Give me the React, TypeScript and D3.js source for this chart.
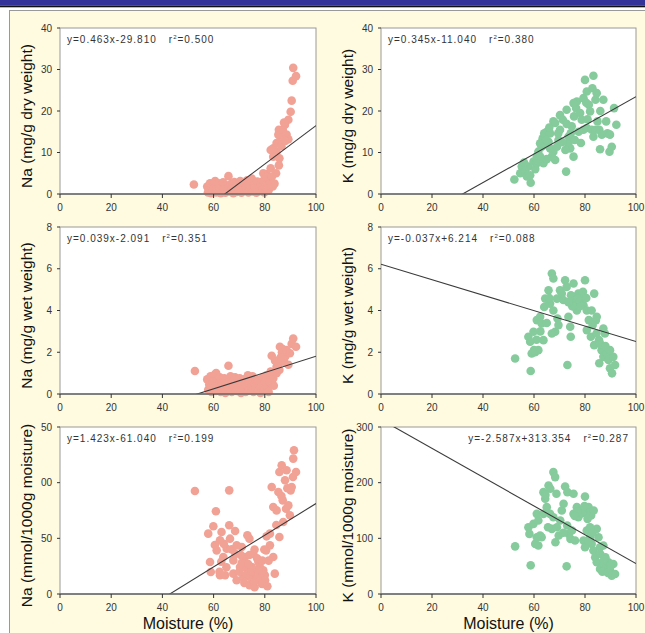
import * as d3 from 'd3'

// Moisture (%) vs. ion content, six panels (Na left, K right)
const naDry: [number, number][] = [
  [52.3, 2.3], [57.5, 1.8], [57.8, 0.4], [58.2, 1.1], [58.6, 2.6], [59, 0.2], [59.3, 1.5], [59.8, 0.8],
  [60.2, 2.2], [60.6, 3.1], [61, 0.4], [61.4, 1.6], [61.9, 2.6], [62.3, 0.9], [62.8, 0.2], [63.2, 1.9],
  [63.7, 2.8], [64.1, 1.1], [64.6, 0.3], [65, 2.1], [65.5, 1.4], [65.8, 4.3], [66.3, 0.6], [66.8, 2.4],
  [67.2, 1.2], [67.7, 0.2], [68.1, 2.9], [68.6, 1.6], [69, 0.5], [69.5, 2.2], [70, 1], [70.4, 3.1],
  [70.9, 0.3], [71.3, 1.8], [71.8, 2.6], [72.2, 0.8], [72.7, 1.5], [73.1, 3.3], [73.6, 0.4], [74, 2.2],
  [74.5, 1.1], [74.9, 3.7], [75.3, 0.6], [75.8, 2.5], [76.2, 1.4], [76.7, 0.3], [77.1, 3], [77.6, 1.8],
  [78, 0.7], [78.5, 2.3], [79, 1], [79.4, 3.2], [79.8, 0.4], [80.2, 1.7], [80.6, 4.8], [81.1, 2.6],
  [81.5, 0.9], [82, 3.8], [82.3, 6.2], [79.4, 5], [80.7, 4.2], [81.5, 2.2], [83.1, 1.8], [84.4, 5],
  [85.5, 6.9], [85.7, 8.6], [83.3, 9], [84.6, 10.2], [82.3, 10.6], [83.3, 11], [84.6, 12.3], [86.2, 13.5],
  [85.3, 14.3], [85.5, 15.5], [87, 15.5], [87.9, 16.7], [89.2, 17.9], [88.5, 14.3], [89.2, 13.2], [90.1, 19.8],
  [90.5, 22.5], [90.9, 27.3], [91.1, 30.4], [92.2, 28.4], [86.5, 11.5], [88, 12.8], [87.5, 17.2], [82.8, 4.2],
  [83.8, 2.5]
]

const kDry: [number, number][] = [
  [52.3, 3.5], [58.7, 2.7], [55.2, 6.6], [54.6, 5], [56.5, 5.4], [57.2, 4.2], [57.8, 6.6], [56.1, 7.6],
  [59.8, 7.8], [61.1, 9], [61.7, 10.2], [63, 11.4], [63.7, 7.4], [62.4, 12.2], [63.4, 13.4], [64, 14.6],
  [65, 15], [66.3, 14.6], [67.6, 17.5], [64.4, 11.8], [65.7, 12.6], [66.3, 11], [67.6, 10.2], [69, 11.4],
  [69.6, 13], [70.2, 15.5], [71.3, 17.9], [72.8, 20.3], [72.6, 5.4], [73.5, 12.2], [74.2, 11], [74.4, 14.6],
  [74.8, 16.3], [75.7, 18.7], [76.5, 20.7], [76.8, 22.3], [78.1, 19.5], [78.7, 17.9], [79.4, 23.1], [80, 27.5],
  [80.7, 24.7], [81.5, 21.5], [82, 19.9], [82.9, 25.5], [83.3, 28.5], [84.1, 22.7], [84.6, 24.3], [84.9, 17.5],
  [85.6, 15.5], [86.6, 14.3], [85.9, 10.8], [87.2, 22.7], [88.3, 17.5], [88.8, 14.6], [89.6, 10.2], [90.5, 11.4],
  [91.4, 20.7], [92.3, 16.7], [89.8, 14.3], [79.4, 15.5], [80.7, 15.9], [82.6, 15.5], [75.5, 9], [72.3, 10.6],
  [68.3, 8.2], [67, 9], [65, 8.4], [62.4, 9], [61.1, 7.4], [68.3, 17.1], [70.2, 19], [78.4, 12.3],
  [83.3, 13.8], [84.2, 15.5], [75.5, 21.9], [72.8, 16.9], [73.5, 13.8], [69.5, 14.6], [77.5, 15], [81, 18],
  [66, 16], [60.5, 6], [58.5, 4.5], [64.8, 13], [71, 12.5], [76, 13], [86, 20], [80.5, 22]
]

const naWet: [number, number][] = [
  [52.7, 1.1], [57.5, 0.7], [57.9, 0.2], [58.3, 0.45], [58.8, 0.85], [59.2, 0.1], [59.7, 0.55], [60.1, 0.3],
  [60.6, 0.95], [61, 0.15], [61.5, 0.65], [61.9, 0.4], [62.4, 0.8], [62.8, 0.1], [63.3, 0.5], [63.7, 0.25],
  [64.2, 0.75], [64.6, 0.05], [65.1, 0.55], [65.8, 1.35], [66.2, 0.3], [66.6, 0.85], [67.1, 0.1], [67.5, 0.6],
  [68, 0.35], [68.4, 0.8], [68.9, 0.15], [69.3, 0.55], [69.8, 0.3], [70.2, 0.75], [70.7, 0.05], [71.1, 0.5],
  [71.6, 0.25], [72, 0.7], [72.5, 0.1], [72.9, 0.45], [73.4, 0.9], [73.8, 0.2], [74.3, 0.6], [74.7, 0.35],
  [75.2, 0.85], [75.6, 0.1], [76.1, 0.5], [76.5, 0.3], [77, 0.7], [77.4, 0.15], [77.9, 0.55], [78.3, 0.05],
  [78.8, 0.4], [79.2, 0.8], [79.7, 0.2], [80.1, 0.6], [80.6, 0.9], [81, 0.35], [81.5, 0.1], [82, 0.55],
  [82.3, 1.07], [80.7, 0.83], [83.3, 0.75], [84.6, 1.0], [82.7, 1.83], [84.6, 1.3], [85.5, 1.46], [85.7, 1.15],
  [87.5, 1.55], [89.2, 1.4], [88, 1.8], [89.8, 1.95], [88.5, 2.1], [86.7, 2.0], [85.9, 2.26], [90.5, 2.4],
  [91.1, 2.66], [92.2, 2.26], [84, 1.6], [86.2, 1.75], [87, 2.15], [83.5, 0.4], [61, 1.0]
]

const kWet: [number, number][] = [
  [52.6, 1.7], [58.7, 1.1], [57.8, 2.74], [58.5, 2.5], [59.8, 2.98], [59.1, 1.94], [60.4, 2.0], [61.7, 2.1],
  [61.1, 3.54], [62.4, 3.7], [63, 3.38], [63.7, 2.58], [64, 4.17], [64.4, 4.57], [65.7, 4.97], [67, 5.77],
  [67.6, 5.53], [66.3, 4.33], [67.6, 4.0], [69, 4.57], [69.2, 3.62], [68.3, 2.98], [67, 2.9], [69.6, 3.3],
  [70.2, 4.97], [72.2, 5.45], [72.8, 5.13], [73.1, 1.39], [73.5, 3.7], [74.2, 3.22], [74.4, 2.74], [75.5, 5.29],
  [76.2, 4.49], [76.8, 4.17], [77.4, 4.81], [78.1, 4.49], [78.7, 4.73], [80, 5.45], [79.4, 4.25], [80.7, 4.0],
  [80.7, 3.06], [81.5, 3.54], [82.3, 2.74], [83.6, 4.81], [82.6, 4.0], [83.6, 2.34], [84.3, 3.54], [84.6, 3.7],
  [85.5, 2.58], [85.6, 1.47], [86.5, 2.1], [87.2, 1.78], [87.2, 3.14], [87.8, 2.9], [88.5, 1.94], [89.2, 1.63],
  [89.8, 1.23], [90.6, 0.99], [91.1, 1.78], [91.8, 1.39], [89.8, 2.1], [75.7, 4.65], [74.5, 4.73], [76.8, 4.0],
  [71.5, 4.5], [70.9, 4.81], [79.2, 4.9], [78, 4.2], [77, 4.55], [75, 4.2], [73.5, 4.4], [80.5, 4.6],
  [66, 4.6], [65, 3.4], [62.5, 3.0], [61, 2.6], [60, 2.1], [83, 3.3], [84.5, 2.9], [86, 2.4], [88, 2.3]
]

const naMmol: [number, number][] = [
  [52.7, 92.5], [66.1, 93.1], [60.9, 74.3], [59.9, 60.8], [57.9, 54.2], [58.6, 28.7], [58.9, 19.8], [61.2, 39.2],
  [62.5, 48.2], [63.1, 55.7], [63.8, 33.2], [62.5, 16.8], [64.5, 16.8], [65.1, 40.7], [66.1, 61.7], [66.4, 49.7],
  [67.1, 40.1], [67.7, 30.2], [68.4, 56.6], [69, 43.7], [67.7, 18.3], [69, 12.3], [70.3, 24.3], [71, 42.2],
  [71.6, 15.3], [72.3, 33.2], [72.9, 22.8], [73.2, 52.7], [74, 49.7], [74.2, 15.3], [74.9, 24.3], [75.5, 36.2],
  [76.2, 12.3], [76.8, 18.3], [77.5, 28.7], [78.1, 15.3], [78.8, 9.3], [79.4, 21.3], [80.1, 12.3], [80.5, 39.2],
  [80.7, 51.8], [82, 43.7], [82, 54.2], [83.3, 33.2], [83.9, 18.3], [82.7, 96.1], [83.3, 78.1], [84.6, 75.1],
  [85.3, 91.6], [85.7, 109.6], [86.6, 115.6], [87, 84.1], [87.9, 102.1], [87.2, 64.7], [88.3, 76.6], [89.2, 79.6],
  [89.8, 70.7], [90.1, 93.1], [91, 105.1], [91.1, 121.6], [91.4, 129.1], [92.2, 109.6], [90.5, 96.1], [85.7, 51.2],
  [88.5, 111.1], [72, 10], [73, 18], [74, 8], [75, 20], [76, 6], [77, 14], [78, 25], [79, 9],
  [80, 17], [81, 7], [77, 32], [79, 30], [76, 40], [74, 35], [71, 28], [70, 20], [64, 45], [65, 24],
  [60.5, 44], [63, 29], [68.5, 36], [73.5, 27], [75.8, 11], [78.5, 19], [79.8, 40], [81.5, 30], [84.5, 62],
  [86.5, 88], [88.8, 95], [62.3, 20], [70.6, 35], [77.3, 21]
]

const kMmol: [number, number][] = [
  [52.6, 85.6], [58.7, 51.5], [72.8, 49.7], [67.6, 219], [68.3, 210], [65.7, 195], [66.4, 189], [63.7, 183],
  [64.4, 171], [65, 156], [72.2, 193], [73.1, 183], [75.5, 180], [80, 175], [57.8, 120], [58.2, 108],
  [59.8, 126], [61.1, 144], [61.7, 132], [62.4, 105], [63, 102], [63.7, 144], [66.3, 144], [67.6, 138],
  [67, 117], [69, 120], [70.3, 132], [70.9, 150], [71.6, 162], [73, 123], [73.6, 108], [74.3, 99],
  [74.9, 114], [75.5, 144], [76.8, 156], [77.4, 138], [78.1, 150], [79.4, 153], [80.7, 147], [81.4, 156],
  [82.4, 141], [83.4, 150], [80.7, 114], [82, 102], [82.6, 90], [83.3, 78], [84, 66], [84.6, 57],
  [85.9, 84], [87.2, 87], [85.9, 45], [87.2, 54], [88.5, 48], [89.8, 42], [90.5, 33], [91.1, 54],
  [91.8, 36], [89.2, 57], [88, 66], [85.3, 102], [84.6, 117], [79.4, 96], [80, 84], [82, 120],
  [61.7, 87], [60.5, 90], [61.1, 102], [69.7, 105], [68.4, 93], [76.1, 96], [78.8, 145], [77, 148],
  [79.8, 158], [76, 140], [81, 135], [83, 110], [86, 72], [87.5, 62], [90, 50], [64.5, 178], [68.8, 180],
  [65.5, 120], [71.5, 110], [81.5, 95], [86.8, 40], [89, 38]
]

const titlesY = [
  'Na (mg/g dry weight)', 'K (mg/g dry weight)',
  'Na (mg/g wet weight)', 'K (mg/g wet weight)',
  'Na (mmol/1000g moisture)', 'K (mmol/1000g moisture)'
]
const equations = ['y=0.463x-29.810', 'y=0.345x-11.040', 'y=0.039x-2.091', 'y=-0.037x+6.214', 'y=1.423x-61.040', 'y=-2.587x+313.354']
const slopes = [0.463, 0.345, 0.039, -0.037, 1.423, -2.587]
const intercepts = [-29.81, -11.04, -2.091, 6.214, -61.04, 313.354]
const rSquared = ['0.500', '0.380', '0.351', '0.088', '0.199', '0.287']
const yMax = [40, 40, 8, 8, 150, 300]
const yTickValues = [
  [0, 10, 20, 30, 40], [0, 10, 20, 30, 40],
  [0, 2, 4, 6, 8], [0, 2, 4, 6, 8],
  [0, 50, 100, 150], [0, 100, 200, 300]
]
// bottom-left labels are cut off in the source
const yTickLabels = [
  ['0', '10', '20', '30', '40'], ['0', '10', '20', '30', '40'],
  ['0', '2', '4', '6', '8'], ['0', '2', '4', '6', '8'],
  ['0', '50', '00', '50'], ['0', '100', '200', '300']
]
const xTicks = [0, 20, 40, 60, 80, 100]
const seriesData = [naDry, kDry, naWet, kWet, naMmol, kMmol]

const NA_COLOR = '#f2a195'
const K_COLOR = '#85cb9c'
const FONT = 'Liberation Sans, Arial, sans-serif'

const COLS = [[60, 316], [381, 636]]
const ROWS = [[28, 194], [227, 394], [427, 594]]

function Panel({ i }: { i: number }) {
  const col = i % 2
  const row = Math.floor(i / 2)
  const [x0, x1] = COLS[col]
  const [y0, y1] = ROWS[row]

  const x = d3.scaleLinear().domain([0, 100]).range([x0, x1])
  const y = d3.scaleLinear().domain([0, yMax[i]]).range([y1, y0])
  const color = col === 0 ? NA_COLOR : K_COLOR
  const clipId = `clip-${i}`

  const fitLine = d3.line<number>()
    .x(d => x(d))
    .y(d => y(slopes[i] * d + intercepts[i]))

  const rightAligned = i === 5

  return (
    <g>
      <defs>
        <clipPath id={clipId}>
          <rect x={x0} y={y0} width={x1 - x0} height={y1 - y0} />
        </clipPath>
      </defs>
      <rect x={x0} y={y0} width={x1 - x0} height={y1 - y0} fill="#fff" stroke="#9a9a9a" strokeWidth={1} />

      {seriesData[i].map((d, k) => (
        <circle key={k} cx={x(d[0])} cy={y(d[1])} r={4.3} fill={color} />
      ))}

      <path d={fitLine([0, 100]) || ''} fill="none" stroke="#3a3a3a" strokeWidth={1.1} clipPath={`url(#${clipId})`} />

      {/* x axis */}
      <line x1={x0} x2={x1} y1={y1} y2={y1} stroke="#666" strokeWidth={1.5} />
      {xTicks.map(t => (
        <g key={t}>
          <line x1={x(t)} x2={x(t)} y1={y1} y2={y1 + 4} stroke="#333" />
          <text x={x(t)} y={y1 + 17} textAnchor="middle" fontSize={10} fontFamily={FONT} fill="#333">{t}</text>
        </g>
      ))}

      {/* y axis */}
      {yTickValues[i].map((t, k) => (
        <g key={t}>
          <line x1={x0 - 3} x2={x0} y1={y(t)} y2={y(t)} stroke="#333" />
          <text x={x0 - 8} y={y(t) + 3.5} textAnchor="end" fontSize={10} fontFamily={FONT} fill="#333">{yTickLabels[i][k]}</text>
        </g>
      ))}

      <text
        transform={`translate(${x0 - 28},${(y0 + y1) / 2 + 5}) rotate(-90)`}
        textAnchor="middle" fontSize={15.5} fontFamily={FONT} fill="#111"
      >
        {titlesY[i]}
      </text>

      <text
        x={rightAligned ? x1 - 7 : x0 + 7}
        y={y0 + 15}
        textAnchor={rightAligned ? 'end' : 'start'}
        fontSize={10} fontFamily={FONT} fill="#333" letterSpacing={1}
      >
        {equations[i]}
        <tspan dx={12}>r</tspan>
        <tspan dy={-4} fontSize={6}>2</tspan>
        <tspan dy={4}>={rSquared[i]}</tspan>
      </text>

      {row === 2 && (
        <text x={(x0 + x1) / 2} y={629} textAnchor="middle" fontSize={16} fontFamily={FONT} fill="#111">
          Moisture (%)
        </text>
      )}
    </g>
  )
}

export default function App() {
  const width = 645
  const height = 633
  return (
    <svg width={width} height={height} style={{ position: 'absolute', left: 0, top: 0, display: 'block' }}>
      <rect x={0} y={0} width={width} height={height} fill="#fff" />
      <rect x={0} y={0} width={width} height={5.5} fill="#333399" />
      <rect x={0} y={5.5} width={width} height={1.8} fill="#111" />
      <rect x={9.5} y={10.5} width={width} height={height} fill="#fffbe1" stroke="#999" strokeWidth={1} />
      {seriesData.map((_, i) => <Panel key={i} i={i} />)}
    </svg>
  )
}
